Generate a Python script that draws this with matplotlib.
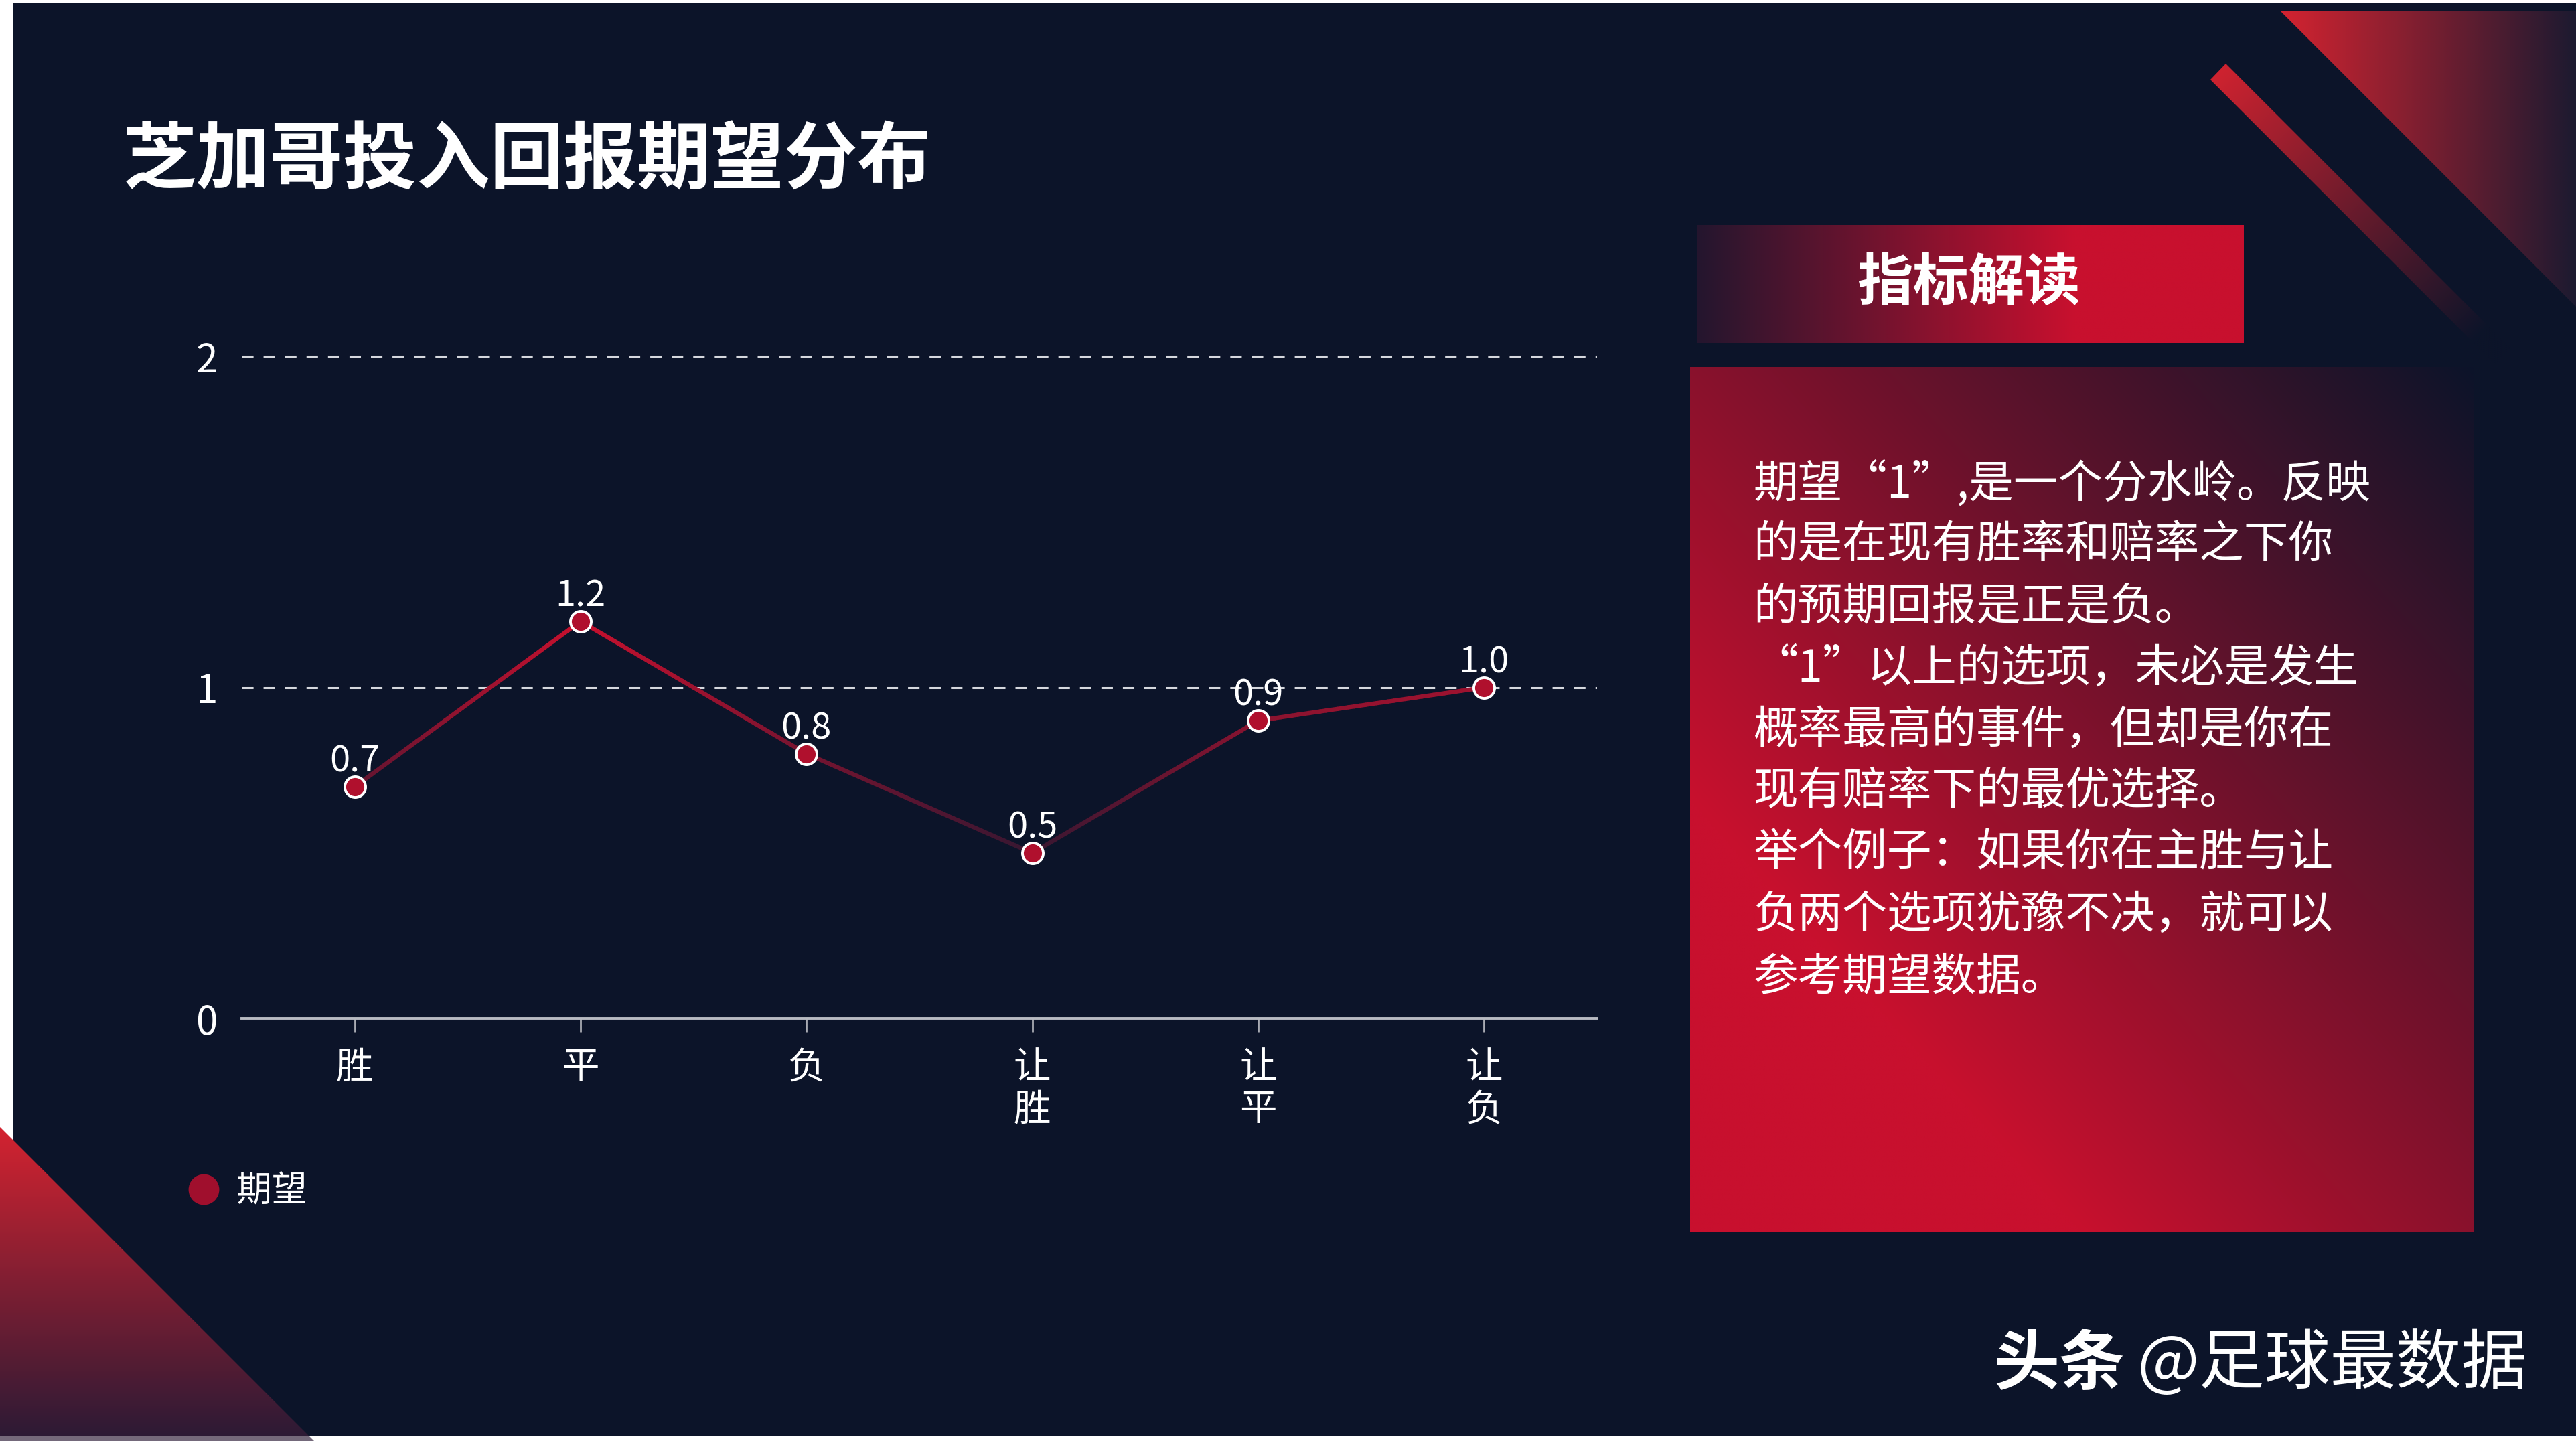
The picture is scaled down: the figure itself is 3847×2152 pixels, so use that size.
import numpy as np
import matplotlib
matplotlib.use('Agg')
import matplotlib.pyplot as plt
from matplotlib.collections import LineCollection
from matplotlib.patches import Polygon, Rectangle
from matplotlib.lines import Line2D
from matplotlib.colors import to_rgb

plt.rcParams['font.family'] = ['Noto Sans CJK SC', 'DejaVu Sans']

# ── 数据 ──
categories = ['胜', '平', '负', '让胜', '让平', '让负']
expect_values = [0.7, 1.2, 0.8, 0.5, 0.9, 1.0]
y_ticks = [0, 1, 2]
series_name = '期望'
title = '芝加哥投入回报期望分布'
panel_title = '指标解读'
panel_lines = [
    '期望“1”,是一个分水岭。反映',
    '的是在现有胜率和赔率之下你',
    '的预期回报是正是负。',
    '“1”以上的选项，未必是发生',
    '概率最高的事件，但却是你在',
    '现有赔率下的最优选择。',
    '举个例子：如果你在主胜与让',
    '负两个选项犹豫不决，就可以',
    '参考期望数据。',
]
watermark_bold = '头条'
watermark_rest = '@足球最数据'

# ── 配色 ──
NAVY = '#0C1429'
RED = '#C8102E'
RED_HI = '#D42330'
LINE_DARK = '#1E1832'
W, H = 3848, 2152
DPI = 200


def mix(c0, c1, t):
    c0 = np.array(to_rgb(c0))
    c1 = np.array(to_rgb(c1))
    t = np.clip(np.asarray(t, dtype=float), 0, 1)[..., None]
    return c0 * (1 - t) + c1 * t


def gradient_patch(ax, patch, bbox, tfunc, c0, c1, z=1):
    """用 imshow 填渐变，再按 patch 裁剪"""
    x0, y0, x1, y1 = bbox
    u, v = np.meshgrid(np.linspace(0, 1, 300), np.linspace(0, 1, 300))
    img = mix(c0, c1, tfunc(u, v))
    patch.set_facecolor('none')
    patch.set_edgecolor('none')
    ax.add_patch(patch)
    im = ax.imshow(img, extent=(x0, x1, y1, y0), origin='upper', aspect='auto',
                   interpolation='bilinear', zorder=z)
    im.set_clip_path(patch)


fig = plt.figure(figsize=(W / DPI, H / DPI), dpi=DPI, facecolor='white')

# ── 背景层（像素坐标，y 向下） ──
bg = fig.add_axes([0, 0, 1, 1])
bg.axis('off')
bg.add_patch(Rectangle((19, 4), W - 19, 2140, facecolor=NAVY, edgecolor='none', zorder=0))

# 右上角三角
gradient_patch(bg, Polygon([(3405, 16), (W, 16), (W, 459)], closed=True),
               (3405, 16, W, 459), lambda u, v: u, RED_HI, '#1C1A30')
# 斜条
d = np.array([1, 1]) / np.sqrt(2)
A, B = np.array([3301, 119]), np.array([3324, 95])
stripe = [A, B, B + 600 * d, A + 600 * d]
gradient_patch(bg, Polygon(stripe, closed=True), (3301, 95, 3750, 545),
               lambda u, v: (u + v) / 2 / 0.9, RED_HI, NAVY)
# 左下角三角
gradient_patch(bg, Polygon([(0, 1683), (0, 2152), (469, 2152)], closed=True),
               (0, 1683, 469, 2152), lambda u, v: v, RED_HI, '#2A1A35')
bg.add_patch(Rectangle((0, 2144), W, 8, facecolor='white', alpha=0.35, edgecolor='none', zorder=2))

# 指标解读 标题框
gradient_patch(bg, Rectangle((2534, 336), 817, 176), (2534, 336, 3351, 512),
               lambda u, v: u / 0.69, '#24162E', RED)
# 说明文字框：左下红 → 右上深蓝
gradient_patch(bg, Rectangle((2524, 548), 1171, 1292), (2524, 548, 3695, 1840),
               lambda u, v: ((u + (1 - v)) / 2 - 0.25) / 0.75, RED, NAVY)

bg.text(184, 242, title, fontsize=39.5, fontweight='bold', color='white',
        ha='left', va='center', zorder=3)
bg.text(2940, 424, panel_title, fontsize=30, fontweight='bold', color='white',
        ha='center', va='center', zorder=3)
for i, line in enumerate(panel_lines):
    bg.text(2618, 723 + 92 * i, line, fontsize=24, color='white',
            ha='left', va='center', zorder=3)
bg.text(2977, 2038, watermark_bold, fontsize=35.3, fontweight='bold', color='white',
        ha='left', va='center', zorder=3)
bg.text(3192, 2038, watermark_rest, fontsize=35.3, color='white',
        ha='left', va='center', zorder=3)
bg.set_xlim(0, W)
bg.set_ylim(H, 0)

# ── 折线图 ──
ax = fig.add_axes([361 / W, (H - 1521) / H, (2385 - 361) / W, 1038 / H])
ax.patch.set_visible(False)
x = np.arange(len(categories))
vals = np.array(expect_values)
ax.set_xlim(-0.5, len(categories) - 0.5)
ax.set_ylim(0, 2.1)

ax.set_yticks(y_ticks)
ax.set_yticklabels([str(t) for t in y_ticks])
ax.yaxis.grid(True, linestyle=(0, (5.6, 4.9)), color='#D5D7DD', linewidth=1.1)
ax.set_axisbelow(True)
ax.set_xticks(x)
ax.set_xticklabels(['\n'.join(c) for c in categories])
for lbl in ax.get_xticklabels():
    lbl.set_linespacing(1.12)

for side in ['top', 'right', 'left']:
    ax.spines[side].set_visible(False)
ax.spines['bottom'].set_color('#B9BBC2')
ax.spines['bottom'].set_linewidth(1.4)
ax.spines['bottom'].set_zorder(2)
ax.tick_params(axis='y', length=0, pad=13, labelsize=21, labelcolor='white')
ax.tick_params(axis='x', length=7.2, width=1.0, color='#A9ABB3', pad=9,
               labelsize=20, labelcolor='white')

# 渐变折线：按高度着色
pts = np.column_stack([x, vals])
segs, tcol = [], []
lo, hi = vals.min(), vals.max()
for p0, p1 in zip(pts[:-1], pts[1:]):
    t = np.linspace(0, 1, 41)[:, None]
    sp = p0 + (p1 - p0) * t
    for a, b in zip(sp[:-1], sp[1:]):
        segs.append([a, b])
        tcol.append(((a[1] + b[1]) / 2 - lo) / (hi - lo))
lc = LineCollection(segs, colors=mix(LINE_DARK, RED, 0.15 + 0.85 * np.array(tcol)),
                    linewidths=2.3, capstyle='round', zorder=3)
ax.add_collection(lc)
ax.scatter(x, vals, s=125, facecolor='#B0102D', edgecolor='white',
           linewidth=1.4, zorder=4, clip_on=False)
for xi, yi in zip(x, vals):
    ax.annotate(f'{yi:.1f}', (xi, yi), xytext=(0, 8), textcoords='offset points',
                ha='center', va='baseline', color='white', fontsize=19.5, zorder=5)

handle = Line2D([], [], marker='o', linestyle='none', markersize=16.5,
                markerfacecolor='#A00F2D', markeredgecolor='none')
fig.legend([handle], [series_name], loc='center left',
           bbox_to_anchor=(278 / W, 1 - 1779 / H), frameon=False, fontsize=19,
           labelcolor='white', handlelength=1.0, handletextpad=0.43,
           borderpad=0, borderaxespad=0)

fig.savefig('out.png', dpi=DPI, facecolor=fig.get_facecolor())
